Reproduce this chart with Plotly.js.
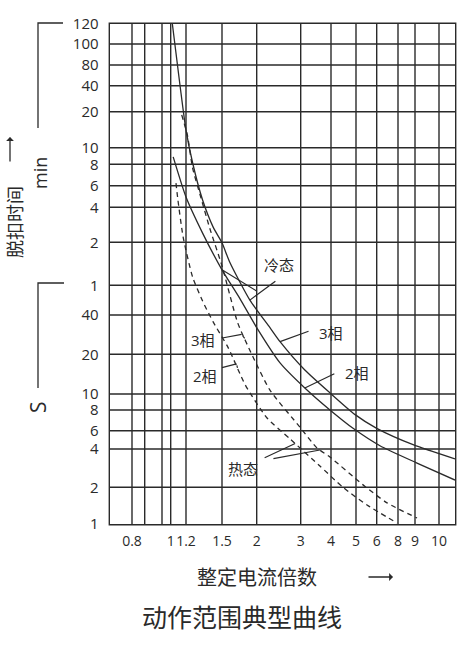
<!DOCTYPE html>
<html>
<head>
<meta charset="utf-8">
<script src="https://cdn.plot.ly/plotly-3.0.1.min.js"></script>
<style>
  html, body { margin: 0; padding: 0; background: #fff; }
  #chart { width: 460px; height: 648px; }
  /* grid lines of the printed chart are a bit heavier than one crisp pixel */
  #chart .gridlayer path, #chart .xlines-above, #chart .ylines-above {
    shape-rendering: geometricPrecision !important;
  }
</style>
</head>
<body>
<div id="chart"></div>
<script>
'use strict';

/* ---- data ----
   current = multiple of the set current, time = trip time in seconds */

const X_TICK_VALS = [0.8, 0.9, 0.95, 1, 1.2, 1.5, 2, 3, 4, 5, 6, 8, 9, 10];
const X_TICK_TEXT = ['0.8', '', '', '1', '1.2', '1.5', '2', '3', '4', '5', '6', '8', '9', '10'];

// 120 min ... 1 min, then 40 s ... 1 s
const Y_TICK_VALS = [7200, 6000, 4800, 2400, 1200, 600, 480, 360, 240, 120, 60,
                     40, 20, 10, 8, 6, 4, 2, 1];
const Y_TICK_TEXT = ['120', '100', '80', '40', '20', '10', '8', '6', '4', '2', '1',
                     '40', '20', '10', '8', '6', '4', '2', '1'];

// cold state (solid)
const COLD_3P_I = [1.02, 1.12, 1.2, 1.25, 1.33, 1.42, 1.5, 1.6, 1.89, 2.26, 2.48, 3.12, 3.96, 4.96, 6, 8.88, 11];
const COLD_3P_T = [7200, 2320, 840, 490, 275, 162, 119, 87, 49, 32, 25, 15.2, 10.2, 7.5, 6.2, 4.4, 3.34];
const COLD_2P_I = [1.03, 1.2, 1.33, 1.5, 1.74, 2, 2.48, 3.12, 3.96, 4.87, 6.27, 9.08, 11];
const COLD_2P_T = [530, 291, 144, 77, 50, 32, 17.2, 11.1, 8, 6.2, 4.3, 3.1, 2.28];

// hot state (dashed)
const HOT_3P_I = [1.14, 1.21, 1.25, 1.31, 1.39, 1.5, 1.71, 1.94, 2.26, 2.98, 3.5, 3.96, 5.32, 6.9, 9.08];
const HOT_3P_T = [1130, 766, 457, 302, 159, 82, 34.7, 19.1, 10.7, 6.3, 4.1, 3.46, 2.09, 1.49, 1.12];
const HOT_2P_I = [1.065, 1.09, 1.16, 1.25, 1.33, 1.42, 1.58, 1.82, 2.2, 2.72, 3.6, 4.45, 5.51, 7.9];
const HOT_2P_T = [373, 275, 133, 68.6, 48.4, 35.4, 22.4, 11.7, 7.16, 5.0, 2.94, 2.0, 1.43, 1.02];

/* ---- the printed grid is not a true log scale: piecewise-log breakpoints ---- */
const X_SCALE_VALS = [0.7].concat(X_TICK_VALS, [11]);
const X_SCALE_POS  = [0, 22, 34.7, 52, 60.7, 76, 112, 146.7, 190.7, 221, 246, 266.7, 288, 305, 329, 345];
const Y_SCALE_POS  = [500, 480, 459, 438.3, 412.3, 376.3, 359.7, 338.3, 316.7, 281.7, 238.7,
                      209, 169.7, 130, 114, 93.3, 75, 36.7, 0];

function makeScale(vals, pos) {
    const lv = vals.map(Math.log);
    const n = lv.length;
    const asc = lv[n - 1] > lv[0];
    return function (v) {
        const l = Math.log(v);
        let i = 0;
        while (i < n - 2 && (asc ? l > lv[i + 1] : l < lv[i + 1])) i++;
        const t = (l - lv[i]) / (lv[i + 1] - lv[i]);
        return pos[i] + t * (pos[i + 1] - pos[i]);
    };
}

const sx = makeScale(X_SCALE_VALS, X_SCALE_POS);
const sy = makeScale(Y_TICK_VALS, Y_SCALE_POS);

// point on a curve between sample i and i+1 (f = 0..1), in axis units
function along(xs, ts, i, f) {
    const x0 = sx(xs[i]), y0 = sy(ts[i]);
    if (!f) return [x0, y0];
    return [x0 + f * (sx(xs[i + 1]) - x0), y0 + f * (sy(ts[i + 1]) - y0)];
}

/* ---- page geometry (plot frame is 110..455 x 24..524 px) ---- */
const W = 460, H = 648;
const M = { l: 110, r: 5, t: 24, b: 124 };
const PX = (x) => (x - M.l) / (W - M.l - M.r);
const PY = (y) => (H - M.b - y) / (H - M.t - M.b);

const INK = '#2a2a2a';
const FONT = 'Open Sans, "Noto Sans CJK SC", sans-serif';

function curveTrace(xs, ts, dash) {
    return {
        type: 'scatter', mode: 'lines',
        x: xs.map(sx), y: ts.map(sy),
        line: { color: INK, width: 1.3, dash: dash, shape: 'spline', smoothing: 0.6 },
        hoverinfo: 'skip', showlegend: false, cliponaxis: true
    };
}

const traces = [
    curveTrace(COLD_3P_I, COLD_3P_T, 'solid'),
    curveTrace(COLD_2P_I, COLD_2P_T, 'solid'),
    curveTrace(HOT_3P_I, HOT_3P_T, '5px,4px'),
    curveTrace(HOT_2P_I, HOT_2P_T, '5px,4px')
];

function label(x, y, text, size, angle) {
    return {
        xref: 'paper', yref: 'paper', x: PX(x), y: PY(y),
        xanchor: 'center', yanchor: 'middle',
        text: text, showarrow: false, textangle: angle || 0,
        font: { family: FONT, size: size, color: INK }
    };
}

function leader(pt, ax, ay, shift) {
    return {
        x: pt[0], y: pt[1], xref: 'x', yref: 'y',
        ax: ax, ay: ay, text: '', showarrow: true,
        arrowhead: 0, arrowwidth: 1.2, arrowcolor: INK,
        standoff: 0, startstandoff: 0,
        xshift: shift ? shift[0] : 0, yshift: shift ? shift[1] : 0
    };
}

function pointer(x, y, ax, ay) {
    return {
        xref: 'paper', yref: 'paper', x: PX(x), y: PY(y), ax: ax, ay: ay,
        text: '', showarrow: true, arrowhead: 1, arrowsize: 1, arrowwidth: 1.3, arrowcolor: INK
    };
}

const hot3 = along(HOT_3P_I, HOT_3P_T, 6, 0.45);
const hot2 = along(HOT_2P_I, HOT_2P_T, 6, 0.54);

const annotations = [
    // side / bottom captions
    label(15, 222, '脱扣时间', 18, -90),
    label(40, 173, 'min', 18, -90),
    label(38, 407, 'S', 21, -90),
    label(257, 577, '整定电流倍数', 20),
    label(242, 617, '动作范围典型曲线', 25),
    pointer(10, 137, 0, 26),
    pointer(393, 577, -26, 0),

    // curve labels
    label(279, 265, '冷态', 15),
    label(331, 333, '3相', 15),
    label(357, 373, '2相', 15),
    label(203, 340, '3相', 15),
    label(205, 376, '2相', 15),
    label(243, 469, '热态', 15),

    leader(along(COLD_3P_I, COLD_3P_T, 8), 27, -20),
    leader(along(COLD_2P_I, COLD_2P_T, 3), 36, 22),
    leader(along(COLD_3P_I, COLD_3P_T, 10), 30, -11),
    leader(along(COLD_2P_I, COLD_2P_T, 7), 31, -15),

    // hooked leaders for the hot curves
    leader(hot3, -3, -4),
    leader(hot3, -21, 4, [-3, 4]),
    leader(hot2, -1, -4),
    leader(hot2, -16, 4, [-1, 4]),

    leader(along(HOT_2P_I, HOT_2P_T, 9, 0.17), -32, 15),
    leader(along(HOT_3P_I, HOT_3P_T, 10, 0.23), -48, 9)
];

const shapes = [
    {
        type: 'path', xref: 'paper', yref: 'paper',
        path: 'M ' + PX(63) + ',' + PY(23) + ' L ' + PX(38) + ',' + PY(23) + ' L ' + PX(38) + ',' + PY(128),
        line: { color: INK, width: 1.3 }
    },
    {
        type: 'path', xref: 'paper', yref: 'paper',
        path: 'M ' + PX(64) + ',' + PY(283) + ' L ' + PX(38) + ',' + PY(283) + ' L ' + PX(38) + ',' + PY(388),
        line: { color: INK, width: 1.3 }
    }
];

const axisCommon = {
    tickmode: 'array',
    showgrid: true, gridcolor: INK, gridwidth: 1.4,
    zeroline: false,
    showline: true, mirror: true, linecolor: INK, linewidth: 1.4,
    ticks: 'outside', tickcolor: 'rgba(0,0,0,0)',
    tickangle: 0,
    tickfont: { family: FONT, size: 15, color: INK },
    fixedrange: true
};

const layout = {
    width: W, height: H,
    margin: M,
    paper_bgcolor: '#fff', plot_bgcolor: '#fff',
    font: { family: FONT, color: INK },
    showlegend: false,
    xaxis: Object.assign({}, axisCommon, {
        range: [0, 345],
        tickvals: X_TICK_VALS.map(sx), ticktext: X_TICK_TEXT,
        tickfont: { family: FONT, size: 14, color: INK },
        ticklen: 4
    }),
    yaxis: Object.assign({}, axisCommon, {
        range: [0, 500],
        tickvals: Y_TICK_VALS.map(sy), ticktext: Y_TICK_TEXT,
        ticklen: 7
    }),
    annotations: annotations,
    shapes: shapes
};

Plotly.newPlot('chart', traces, layout, { displayModeBar: false, staticPlot: true });
</script>
</body>
</html>
